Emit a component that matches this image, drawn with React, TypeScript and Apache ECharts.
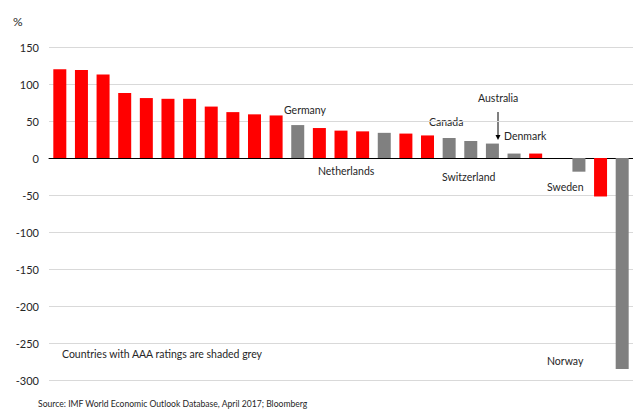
import React, { useEffect, useRef } from "react";
import * as echarts from "echarts";

const categories = [
  "C1", "C2", "C3", "C4", "C5", "C6", "C7", "C8", "C9", "C10", "C11",
  "Germany", "C13", "C14", "C15", "Netherlands", "C17", "C18", "Canada",
  "Switzerland", "Australia", "Denmark", "C23", "C24", "Sweden", "C26", "Norway",
];
const values = [
  120, 119, 113, 88, 81, 80, 80, 69.5, 62, 59, 57.5,
  44.5, 40.5, 37, 36, 34, 33, 30.5, 27,
  23, 19.5, 6, 6, 0, -18.5, -52, -285,
];
const aaa = [
  false, false, false, false, false, false, false, false, false, false, false,
  true, false, false, false, true, false, false, true,
  true, true, true, false, false, true, false, true,
];
const yTicks = { min: -300, max: 150, interval: 50 };

const RED = "#ff0000";
const GREY = "#808080";
const FONT = "Lato";
const TXT = "#262626";

export default function App() {
  const ref = useRef<HTMLDivElement>(null);
  useEffect(() => {
    if (!ref.current) return;
    const chart = echarts.init(ref.current, undefined, { renderer: "svg" });
    const label = (text: string, x: number, y: number, size = 10.5) => ({
      type: "text",
      x,
      y,
      style: { text, fill: TXT, font: `${size}px ${FONT}`, textVerticalAlign: "middle" },
    });
    chart.setOption({
      animation: false,
      backgroundColor: "#ffffff",
      grid: { left: 49, right: -10, top: 47, bottom: 29, containLabel: false },
      xAxis: {
        type: "category",
        data: categories,
        axisLabel: { show: false },
        axisTick: { show: false },
        axisLine: { onZero: true, lineStyle: { color: "#000", width: 1 } },
        splitLine: { show: false },
      },
      yAxis: {
        type: "value",
        min: yTicks.min,
        max: yTicks.max,
        interval: yTicks.interval,
        axisLine: { show: false },
        axisTick: { show: false },
        axisLabel: { color: TXT, fontSize: 11, fontFamily: FONT, margin: 10 },
        splitLine: { lineStyle: { color: "#d9d9d9", width: 1 } },
      },
      series: [
        {
          type: "bar",
          barWidth: 13,
          data: values.map((v, i) => ({
            value: v,
            itemStyle: { color: aaa[i] ? GREY : RED },
          })),
        },
      ],
      graphic: [
        label("%", 13, 21, 12),
        label("Germany", 284, 110),
        label("Netherlands", 318, 171),
        label("Canada", 429, 122),
        label("Australia", 478, 98),
        label("Denmark", 504, 136),
        label("Switzerland", 442, 177),
        label("Sweden", 547, 187),
        label("Norway", 547, 361),
        label("Countries with AAA ratings are shaded grey", 62, 354),
        label("Source: IMF World Economic Outlook Database, April 2017; Bloomberg", 38, 404, 8.6),
        {
          type: "line",
          shape: { x1: 498, y1: 112, x2: 498, y2: 136 },
          style: { stroke: "#000", lineWidth: 1 },
        },
        {
          type: "polygon",
          shape: { points: [[495.5, 135], [500.5, 135], [498, 140]] },
          style: { fill: "#000" },
        },
      ],
    });
    return () => chart.dispose();
  }, []);
  return (
    <div
      ref={ref}
      style={{ position: "fixed", left: 0, top: 0, width: 633, height: 409 }}
    />
  );
}
